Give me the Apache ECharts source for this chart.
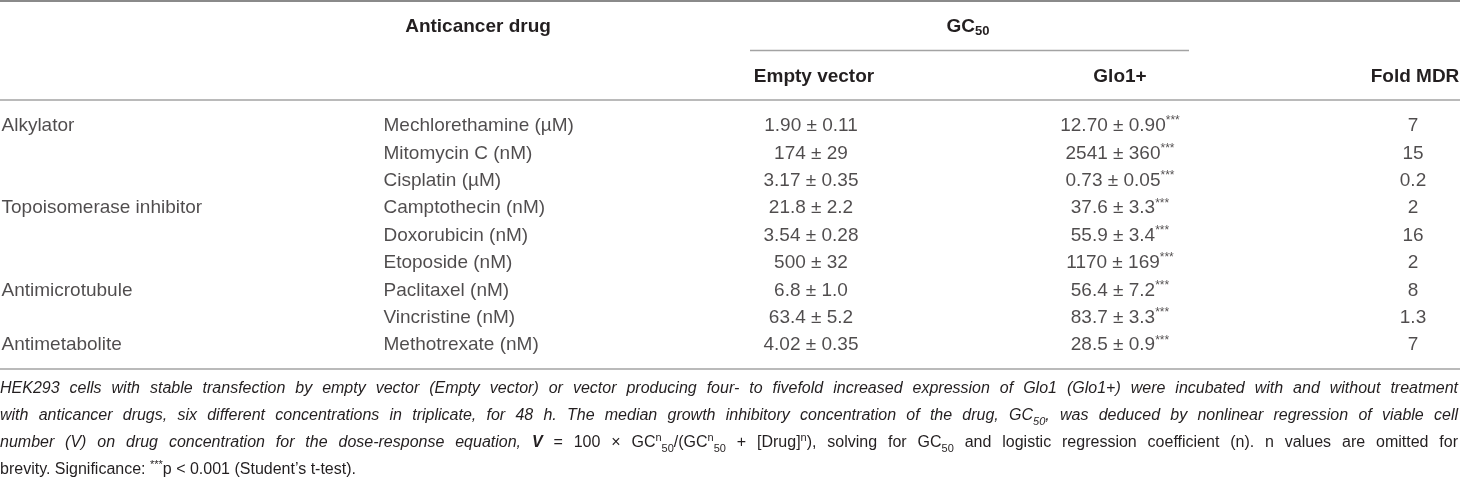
<!DOCTYPE html>
<html>
<head>
<meta charset="utf-8">
<script src="https://cdn.jsdelivr.net/npm/echarts@6/dist/echarts.min.js"></script>
<style>
html, body { margin: 0; padding: 0; background: #fff; }
#main { width: 1460px; height: 479px; }
</style>
</head>
<body>
<div id="main"></div>
<script>
// table contents
var groups = ['Alkylator', '', '', 'Topoisomerase inhibitor', '', '', 'Antimicrotubule', '', 'Antimetabolite'];
var drugs = ['Mechlorethamine (µM)', 'Mitomycin C (nM)', 'Cisplatin (µM)', 'Camptothecin (nM)', 'Doxorubicin (nM)',
	'Etoposide (nM)', 'Paclitaxel (nM)', 'Vincristine (nM)', 'Methotrexate (nM)'];
var emptyVector = ['1.90 ± 0.11', '174 ± 29', '3.17 ± 0.35', '21.8 ± 2.2', '3.54 ± 0.28', '500 ± 32', '6.8 ± 1.0', '63.4 ± 5.2', '4.02 ± 0.35'];
var glo1 = ['12.70 ± 0.90', '2541 ± 360', '0.73 ± 0.05', '37.6 ± 3.3', '55.9 ± 3.4', '1170 ± 169', '56.4 ± 7.2', '83.7 ± 3.3', '28.5 ± 0.9'];
var glo1Sig = ['***', '***', '***', '***', '***', '***', '***', '***', '***'];
var foldMDR = ['7', '15', '0.2', '2', '16', '2', '8', '1.3', '7'];

var FONT = '"Liberation Sans", Arial, sans-serif';
var INK = '#231f20';
var RULE = '#a3a3a3';

// column anchors on the x axis (0..1460 across the page)
var colX = { group: 1, drug: 383, empty: 811, glo1: 1120, fold: 1413 };
var rowTop = 112.3, rowH = 27.4;

function cellSeries(name, x, texts, align, rich) {
	return {
		name: name,
		type: 'scatter',
		symbolSize: 1,
		itemStyle: { color: 'rgba(0,0,0,0)' },
		silent: true,
		data: texts.map(function (t, i) { return { value: [x, i], txt: t }; }),
		label: {
			show: true,
			position: align === 'left' ? 'right' : 'inside',
			distance: 0,
			align: align,
			verticalAlign: 'middle',
			color: INK,
			fontFamily: FONT,
			fontSize: 19,
			rich: rich,
			formatter: function (p) { return p.data.txt; }
		}
	};
}

var glo1Texts = glo1.map(function (v, i) { return '{v|' + v + '}{s|' + glo1Sig[i] + '}'; });

var headText = { fontFamily: FONT, fontSize: 19, fontWeight: 'bold', fill: INK };

// footnote, written as styled runs so each line can be justified
var NOTE = 16;
var runStyle = {
	i: { fontSize: NOTE, fontStyle: 'italic', lineHeight: 22, verticalAlign: 'middle' },
	bi: { fontSize: NOTE, fontStyle: 'italic', fontWeight: 'bold', lineHeight: 22, verticalAlign: 'middle' },
	n: { fontSize: NOTE, lineHeight: 22, verticalAlign: 'middle' },
	sup: { fontSize: 11, verticalAlign: 'top', lineHeight: 12 },
	isub: { fontSize: 11, fontStyle: 'italic', verticalAlign: 'bottom', lineHeight: 12 },
	sub: { fontSize: 11, verticalAlign: 'bottom', lineHeight: 12 }
};
var notes = [
	[['i', 'HEK293 cells with stable transfection by empty vector (Empty vector) or vector producing four- to fivefold increased expression of Glo1 (Glo1+) were incubated with and without treatment']],
	[['i', 'with anticancer drugs, six different concentrations in triplicate, for 48 h. The median growth inhibitory concentration of the drug, GC'], ['isub', '50'], ['i', ', was deduced by nonlinear regression of viable cell']],
	[['i', 'number (V) on drug concentration for the dose-response equation, '], ['bi', 'V'], ['n', ' = 100 × GC'], ['sup', 'n'], ['sub', '50'], ['n', '/(GC'], ['sup', 'n'], ['sub', '50'], ['n', ' + [Drug]'], ['sup', 'n'], ['n', '), solving for GC'], ['sub', '50'], ['n', ' and logistic regression coefficient (n). n values are omitted for']],
	[['n', 'brevity. Significance: '], ['sup', '***'], ['n', 'p < 0.001 (Student\u2019s t-test).']]
];
var noteJustify = [true, true, true, false];
var noteY = [389, 416, 443, 470];
var noteWidth = 1458;

var ctx = document.createElement('canvas').getContext('2d');
function cssFont(st) {
	return (st.fontStyle || 'normal') + ' ' + (st.fontWeight || 'normal') + ' ' + st.fontSize + 'px ' + FONT;
}
var rich = {};
Object.keys(runStyle).forEach(function (k) {
	rich[k] = Object.assign({ fontFamily: FONT, color: INK }, runStyle[k]);
});

function buildNote(runs, justify, idx) {
	var inkW = 0, spaces = 0;
	runs.forEach(function (r) {
		ctx.font = cssFont(runStyle[r[0]]);
		var parts = r[1].split(' ');
		spaces += parts.length - 1;
		parts.forEach(function (w) { inkW += ctx.measureText(w).width; });
	});
	ctx.font = cssFont(runStyle.n);
	var spW = justify ? (noteWidth - inkW) / spaces : ctx.measureText(' ').width;
	var spName = 'sp' + idx;
	rich[spName] = { fontFamily: FONT, fontSize: NOTE, width: spW, lineHeight: 22 };
	return runs.map(function (r) {
		return r[1].split(' ').map(function (w) {
			return w ? '{' + r[0] + '|' + w + '}' : '';
		}).join('{' + spName + '| }');
	}).join('');
}

var graphics = [
	{ type: 'line', shape: { x1: 0, y1: 1, x2: 1460, y2: 1 }, style: { stroke: '#8a8a8a', lineWidth: 2 } },
	{ type: 'line', shape: { x1: 750, y1: 50.5, x2: 1189, y2: 50.5 }, style: { stroke: RULE, lineWidth: 1.5 } },
	{ type: 'line', shape: { x1: 0, y1: 100, x2: 1460, y2: 100 }, style: { stroke: RULE, lineWidth: 1.5 } },
	{ type: 'line', shape: { x1: 0, y1: 369, x2: 1460, y2: 369 }, style: { stroke: RULE, lineWidth: 1.5 } },
	{ type: 'text', x: 478, y: 27, style: Object.assign({ text: 'Anticancer drug', align: 'center', verticalAlign: 'middle' }, headText) },
	{ type: 'text', x: 968, y: 27, style: Object.assign({
		text: '{b|GC}{s|50}', align: 'center', verticalAlign: 'middle',
		rich: {
			b: { fontFamily: FONT, fontSize: 19, fontWeight: 'bold', color: INK, lineHeight: 22 },
			s: { fontFamily: FONT, fontSize: 13, fontWeight: 'bold', color: INK, verticalAlign: 'bottom', lineHeight: 14 }
		}
	}, headText) },
	{ type: 'text', x: 814, y: 77, style: Object.assign({ text: 'Empty vector', align: 'center', verticalAlign: 'middle' }, headText) },
	{ type: 'text', x: 1120, y: 77, style: Object.assign({ text: 'Glo1+', align: 'center', verticalAlign: 'middle' }, headText) },
	{ type: 'text', x: 1415, y: 77, style: Object.assign({ text: 'Fold MDR', align: 'center', verticalAlign: 'middle' }, headText) }
];
notes.forEach(function (runs, i) {
	var txt = buildNote(runs, noteJustify[i], i);
	graphics.push({ type: 'text', x: 0, y: noteY[i], style: { text: txt, rich: rich, align: 'left', verticalAlign: 'middle', fontFamily: FONT, fontSize: NOTE, fill: INK } });
});

var option = {
	animation: false,
	backgroundColor: '#fff',
	grid: { left: 0, right: 0, top: rowTop, height: rowH * drugs.length },
	xAxis: { type: 'value', min: 0, max: 1460, show: false },
	yAxis: { type: 'category', inverse: true, data: drugs, show: false },
	series: [
		cellSeries('group', colX.group, groups, 'left'),
		cellSeries('drug', colX.drug, drugs, 'left'),
		cellSeries('empty', colX.empty, emptyVector, 'center'),
		cellSeries('glo1', colX.glo1, glo1Texts, 'center', {
			v: { fontFamily: FONT, fontSize: 19, color: INK, lineHeight: 22 },
			s: { fontFamily: FONT, fontSize: 12, color: INK, verticalAlign: 'top', lineHeight: 12 }
		}),
		cellSeries('fold', colX.fold, foldMDR, 'center')
	],
	graphic: graphics
};

var chart = echarts.init(document.getElementById('main'));
chart.setOption(option);
</script>
</body>
</html>
